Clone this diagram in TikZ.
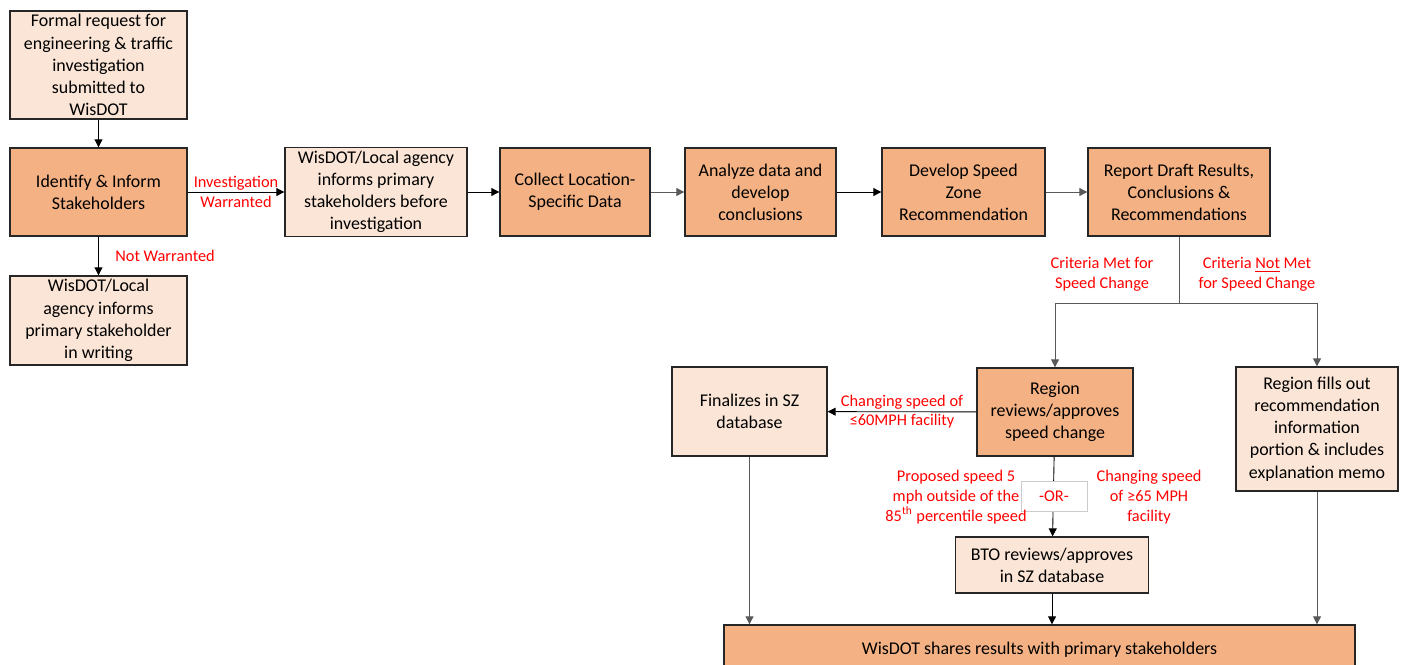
\documentclass[tikz,border=0pt]{standalone}
\usepackage{fontspec}
\setmainfont{Carlito}
\usepackage{tikz}
\usetikzlibrary{arrows.meta}

\definecolor{darkbox}{HTML}{F4B183}
\definecolor{lightbox}{HTML}{FBE5D6}
\definecolor{redtext}{HTML}{FF0000}
\definecolor{linegray}{HTML}{595959}

\tikzset{
    box/.style={draw=black!85, line width=0.8pt, align=center, inner sep=2pt,
        font=\fontsize{10.2}{12.6}\selectfont},
    dark/.style={box, fill=darkbox},
    light/.style={box, fill=lightbox},
    lbl/.style={text=redtext, align=center, font=\fontsize{9.3}{11.2}\selectfont},
    arr/.style={-{Triangle[width=4.5pt,length=4.5pt]}, line width=0.5pt},
}

\begin{document}
\begin{tikzpicture}[x=0.02cm, y=-0.02cm]
            \useasboundingbox (0,0) rectangle (1405,664);

            \node (request) at (98.5,65) [light, minimum width=3.54cm, minimum height=2.16cm] {Formal request for\\engineering \& traffic\\investigation\\submitted to\\WisDOT};
            \node (identify) at (98.5,192) [dark, minimum width=3.54cm, minimum height=1.76cm] {Identify \& Inform\\Stakeholders};
            \node (writing) at (98.5,320.5) [light, minimum width=3.54cm, minimum height=1.78cm] {WisDOT/Local\\agency informs\\primary stakeholder\\in writing};
            \node (inform) at (376,192) [light, minimum width=3.64cm, minimum height=1.76cm] {WisDOT/Local agency\\informs primary\\stakeholders before\\investigation};
            \node (collect) at (575,192) [dark, minimum width=3.0cm, minimum height=1.76cm] {Collect Location-\\Specific Data};
            \node (analyze) at (760.5,192) [dark, minimum width=3.02cm, minimum height=1.76cm] {Analyze data and\\develop\\conclusions};
            \node (develop) at (963.5,192) [dark, minimum width=3.26cm, minimum height=1.76cm] {Develop Speed\\Zone\\Recommendation};
            \node (report) at (1179,192) [dark, minimum width=3.64cm, minimum height=1.76cm] {Report Draft Results,\\Conclusions \&\\Recommendations};
            \node (finalize) at (749.5,411.5) [light, minimum width=3.1cm, minimum height=1.78cm] {Finalizes in SZ\\database};
            \node (region) at (1055,412) [dark, minimum width=3.12cm, minimum height=1.76cm] {Region\\reviews/approves\\speed change};
            \node (fills) at (1317,429) [light, minimum width=3.24cm, minimum height=2.48cm] {Region fills out\\recommendation\\information\\portion \& includes\\explanation memo};
            \node (bto) at (1052,565) [light, minimum width=3.86cm, minimum height=1.12cm] {BTO reviews/approves\\in SZ database};
            \node (shares) at (1039.5,650) [dark, minimum width=12.62cm, minimum height=1.0cm] {WisDOT shares results with primary stakeholders};

            % top row
            \draw[arr] (request) -- (identify);
            \draw[arr] (identify) -- node[lbl] {Investigation\\Warranted} (inform);
            \draw[arr] (identify) -- node[lbl, right=6pt] {Not Warranted} (writing);
            \draw[arr] (inform) -- (collect);
            \draw[arr, linegray] (collect) -- (analyze);
            \draw[arr] (analyze) -- (develop);
            \draw[arr, linegray] (develop) -- (report);

            % branch below report
            \coordinate (split) at (1179,303);
            \draw[linegray, line width=0.5pt] (report) -- (split);
            \draw[arr, linegray] (split) -| (region);
            \draw[arr, linegray] (split) -| (fills);
            \node (met) at (1102,274) [lbl] {Criteria Met for\\Speed Change};
            \node (notmet) at (1257,274) [lbl] {Criteria \underline{Not} Met\\for Speed Change};

            % region decisions
            \draw[arr] (region) -- node[lbl] {Changing speed of\\≤60MPH facility} (finalize);
            \draw[arr] (region) -- (bto);
            \node (or) at (1054,496) [draw=black!20, fill=white, minimum width=1.32cm, minimum height=0.6cm, text=redtext, font=\fontsize{9.3}{11.2}\selectfont] {-OR-};
            \node (slow) at (956,497) [lbl] {Proposed speed 5\\mph outside of the\\85\textsuperscript{th} percentile speed};
            \node (fast) at (1149,497) [lbl] {Changing speed\\of ≥65 MPH\\facility};

            % to final box
            \draw[arr, linegray] (finalize) -- (finalize |- shares.north);
            \draw[arr] (bto) -- (bto |- shares.north);
            \draw[arr, linegray] (fills) -- (fills |- shares.north);
        \end{tikzpicture}
\end{document}
